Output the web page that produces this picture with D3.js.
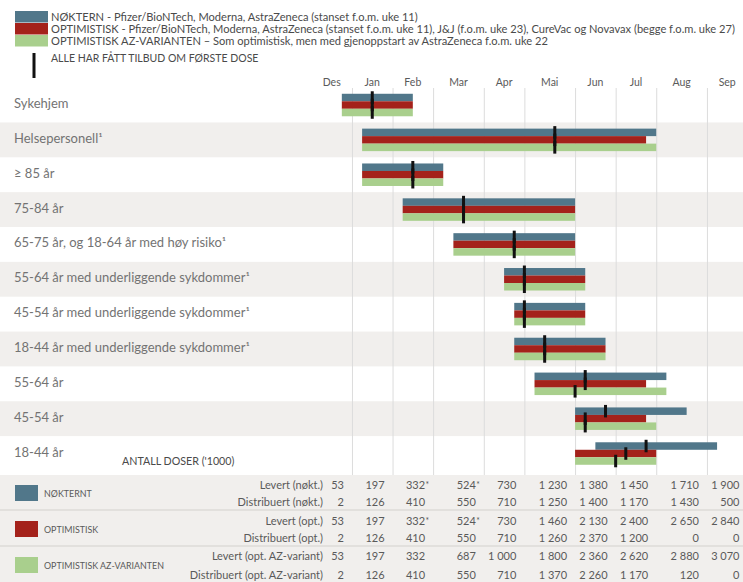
<!DOCTYPE html>
<html>
<head>
<meta charset="utf-8">
<script src="https://cdn.jsdelivr.net/npm/d3@7.9.0/dist/d3.min.js"></script>
<style>
  body { margin: 0; background: #fff; }
  svg { display: block; font-family: Lato, "Open Sans", sans-serif; }
</style>
</head>
<body>
<svg id="chart" width="743" height="582"></svg>
<script>
// months shown on the top axis, with how many weeks each one spans
const months = ['Des', 'Jan', 'Feb', 'Mar', 'Apr', 'Mai', 'Jun', 'Jul', 'Aug', 'Sep'];
const monthWeeks = [4, 4, 4, 5, 4, 5, 4, 4, 5, 4];

const groups = [
  'Sykehjem',
  'Helsepersonell¹',
  '≥ 85 år',
  '75-84 år',
  '65-75 år, og 18-64 år med høy risiko¹',
  '55-64 år med underliggende sykdommer¹',
  '45-54 år med underliggende sykdommer¹',
  '18-44 år med underliggende sykdommer¹',
  '55-64 år',
  '45-54 år',
  '18-44 år'
];

const seriesNames = ['NØKTERNT', 'OPTIMISTISK', 'OPTIMISTISK AZ-VARIANTEN'];
const seriesColors = ['#51778a', '#a4221b', '#a9cf8d'];

// week numbers (week 1 = first week of Jan); start / end of each bar
const noktStart = [0, 2, 2, 6, 11, 16, 17, 17, 19, 23, 25];
const noktEnd   = [7, 31, 10, 23, 23, 24, 24, 26, 32, 34, 37];
const optStart  = [0, 2, 2, 6, 11, 16, 17, 17, 19, 23, 23];
const optEnd    = [7, 30, 10, 23, 23, 24, 24, 26, 30, 30, 31];
const azStart   = [0, 2, 2, 6, 11, 16, 17, 17, 19, 23, 23];
const azEnd     = [7, 31, 10, 23, 23, 24, 24, 26, 32, 31, 31];

// "alle har fått tilbud om første dose"
const noktDose = [3, 21, 7, 12, 17, 18, 18, 20, 24, 26, 30];
const optDose  = [3, 21, 7, 12, 17, 18, 18, 20, 24, 24, 28];
const azDose   = [3, 21, 7, 12, 17, 18, 18, 20, 23, 24, 27];

// antall doser ('1000)
const levertNokt = [53, 197, 332, 524, 730, 1230, 1380, 1450, 1710, 1900];
const distNokt   = [2, 126, 410, 550, 710, 1250, 1400, 1170, 1430, 500];
const levertOpt  = [53, 197, 332, 524, 730, 1460, 2130, 2400, 2650, 2840];
const distOpt    = [2, 126, 410, 550, 710, 1260, 2370, 1200, 0, 0];
const levertAz   = [53, 197, 332, 687, 1000, 1800, 2360, 2620, 2880, 3070];
const distAz     = [2, 126, 410, 550, 710, 1370, 2260, 1170, 120, 0];
const starredCols = [2, 3]; // marked with * in Levert (nøkt.) and Levert (opt.)

const legendTexts = [
  'NØKTERN - Pfizer/BioNTech, Moderna, AstraZeneca (stanset f.o.m. uke 11)',
  'OPTIMISTISK - Pfizer/BioNTech, Moderna, AstraZeneca (stanset f.o.m. uke 11), J&J (f.o.m. uke 23), CureVac og Novavax (begge f.o.m. uke 27)',
  'OPTIMISTISK AZ-VARIANTEN – Som optimistisk, men med gjenoppstart av AstraZeneca f.o.m. uke 22'
];

const svg = d3.select('#chart');
const W = 743;
const textCol = '#5a5a5a';

const firstWeek = -3;
const lastWeek = firstWeek + d3.sum(monthWeeks);
const x = d3.scaleLinear().domain([firstWeek, lastWeek]).range([311.4, 747.5]);

const rowH = 34.85;
const y = d3.scaleBand().domain(d3.range(groups.length))
  .range([87.6, 87.6 + rowH * groups.length]).padding(0);
const barH = 7.5;

const monthStarts = [];
let acc = firstWeek;
monthWeeks.forEach(n => { monthStarts.push(acc); acc += n; });

// ---- row backgrounds
svg.append('g').selectAll('rect')
  .data(d3.range(groups.length).filter(i => i % 2 === 1))
  .join('rect')
  .attr('x', 0).attr('width', W)
  .attr('y', i => y(i)).attr('height', y.bandwidth())
  .attr('fill', '#f1efed');

// ---- table background
const tableTop = 475;
svg.append('rect').attr('x', 0).attr('y', tableTop).attr('width', W).attr('height', 582 - tableTop)
  .attr('fill', '#f1efed');
[510, 546].forEach(yy => {
  svg.append('line').attr('x1', 0).attr('x2', W).attr('y1', yy).attr('y2', yy)
    .attr('stroke', '#d4d1ce').attr('stroke-width', 1.2);
});

// ---- gridlines
svg.append('g').selectAll('line')
  .data(monthStarts.slice(1))
  .join('line')
  .attr('x1', d => x(d) + 0.5).attr('x2', d => x(d) + 0.5)
  .attr('y1', 88).attr('y2', tableTop)
  .attr('stroke', '#dcdcdc').attr('stroke-width', 1);

// ---- month labels
svg.append('g').selectAll('text')
  .data(months)
  .join('text')
  .attr('x', (d, i) => x(monthStarts[i] + monthWeeks[i] / 2))
  .attr('y', 86)
  .attr('text-anchor', 'middle')
  .attr('font-size', 10.5)
  .attr('fill', textCol)
  .text(d => d);

// ---- row labels
svg.append('g').selectAll('text')
  .data(groups)
  .join('text')
  .attr('x', 14)
  .attr('y', (d, i) => y(i) + y.bandwidth() / 2 + 3)
  .attr('font-size', 13)
  .attr('fill', '#737373')
  .text(d => d);

// ---- bars
const starts = [noktStart, optStart, azStart];
const ends = [noktEnd, optEnd, azEnd];
const doses = [noktDose, optDose, azDose];
const barTop = i => y(i) + (y.bandwidth() - barH * 3) / 2;

seriesNames.forEach((s, k) => {
  svg.append('g').selectAll('rect')
    .data(groups)
    .join('rect')
    .attr('x', (d, i) => x(starts[k][i]))
    .attr('width', (d, i) => x(ends[k][i]) - x(starts[k][i]))
    .attr('y', (d, i) => barTop(i) + k * barH)
    .attr('height', barH)
    .attr('fill', seriesColors[k]);
});

seriesNames.forEach((s, k) => {
  svg.append('g').selectAll('rect')
    .data(groups)
    .join('rect')
    .attr('x', (d, i) => x(doses[k][i]) - 1.5)
    .attr('width', 3)
    .attr('y', (d, i) => barTop(i) + k * barH - 2.5)
    .attr('height', barH + 5)
    .attr('fill', '#111');
});

// ---- legend
const lg = svg.append('g');
seriesColors.forEach((c, k) => {
  lg.append('rect').attr('x', 15).attr('y', 11 + k * 12).attr('width', 33).attr('height', 11.5)
    .attr('fill', c);
  lg.append('text').attr('x', 51).attr('y', 21 + k * 12)
    .attr('font-size', 11.1).attr('fill', '#4a4a4a')
    .text(legendTexts[k]);
});
lg.append('rect').attr('x', 32.5).attr('y', 53).attr('width', 3).attr('height', 25).attr('fill', '#111');
lg.append('text').attr('x', 51).attr('y', 61.5).attr('font-size', 10.5).attr('fill', '#4a4a4a')
  .text('ALLE HAR FÅTT TILBUD OM FØRSTE DOSE');

// squeeze long legend lines to the width they take in the original
const legendWidths = [369, 688, 498];
lg.selectAll('text').each(function (d, i) {
  if (i < 3 && this.getComputedTextLength() > legendWidths[i]) {
    d3.select(this).attr('textLength', legendWidths[i]).attr('lengthAdjust', 'spacingAndGlyphs');
  }
});

svg.append('text').attr('x', 122).attr('y', 465).attr('font-size', 10.7).attr('fill', '#4a4a4a')
  .text('ANTALL DOSER (\'1000)');

// ---- dose table
const fmt = d3.formatLocale({ decimal: ',', thousands: '\u00a0', grouping: [3], currency: ['', ''] }).format(',d');

const tableRows = [
  { label: 'Levert (nøkt.)', values: levertNokt, star: true, y: 485 },
  { label: 'Distribuert (nøkt.)', values: distNokt, star: false, y: 502 },
  { label: 'Levert (opt.)', values: levertOpt, star: true, y: 521 },
  { label: 'Distribuert (opt.)', values: distOpt, star: false, y: 538 },
  { label: 'Levert (opt. AZ-variant)', values: levertAz, star: false, y: 556 },
  { label: 'Distribuert (opt. AZ-variant)', values: distAz, star: false, y: 575 }
];

// last column is pushed against the right edge so it stays readable
const colRight = i => Math.min(x(monthStarts[i] + monthWeeks[i]) - 8, W - 2);

tableRows.forEach(r => {
  const g = svg.append('g').attr('font-size', 11).attr('fill', textCol);
  g.append('text').attr('x', 323).attr('y', r.y + 4).attr('text-anchor', 'end').text(r.label);
  g.selectAll('text.v')
    .data(r.values)
    .join('text')
    .attr('class', 'v')
    .attr('x', (d, i) => colRight(i))
    .attr('y', r.y + 4)
    .attr('text-anchor', 'end')
    .text(d => fmt(d));
  if (r.star) {
    starredCols.forEach(i => {
      g.append('text').attr('x', colRight(i) + 0.5).attr('y', r.y + 3).attr('font-size', 8.5).text('*');
    });
  }
});

// table legend
const tableLegendY = [485, 521, 557];
seriesNames.forEach((s, k) => {
  svg.append('rect').attr('x', 15).attr('y', tableLegendY[k]).attr('width', 23).attr('height', 16)
    .attr('fill', seriesColors[k]);
  svg.append('text').attr('x', 44).attr('y', tableLegendY[k] + 11.5)
    .attr('font-size', 8.9).attr('fill', textCol).text(s);
});
</script>
</body>
</html>
